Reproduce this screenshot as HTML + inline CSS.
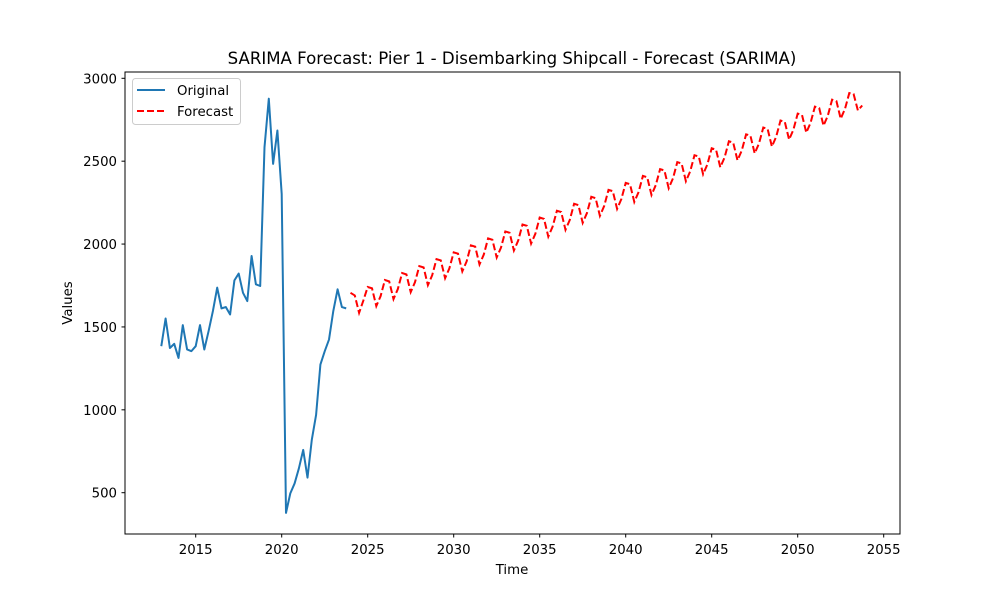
<!DOCTYPE html>
<html><head><meta charset="utf-8"><style>
body{margin:0;background:#fff;}
svg{display:block;font-family:"DejaVu Sans","Liberation Sans",sans-serif;}
</style></head><body>
<svg id="chart" width="1000" height="600" viewBox="0 0 1000 600">
<rect width="1000" height="600" fill="#fff"/>
<text x="512" y="64" font-size="16.6" text-anchor="middle" fill="#000">SARIMA Forecast: Pier 1 - Disembarking Shipcall - Forecast (SARIMA)</text>
<g id="xticks"></g>
<g id="yticks"></g>
<g id="series"></g>
<rect x="125" y="72" width="775" height="462" fill="none" stroke="#000" stroke-width="1"/>
<text x="512" y="574" font-size="13.3" text-anchor="middle">Time</text>
<text x="72" y="303" font-size="13.3" text-anchor="middle" transform="rotate(-90 72 303)">Values</text>
<g>
<rect x="132.5" y="78.5" width="108" height="46" rx="3" fill="#fff" fill-opacity="0.8" stroke="#ccc"/>
<line x1="137" y1="90" x2="165" y2="90" stroke="#1f77b4" stroke-width="2"/>
<text x="177" y="95" font-size="13.3">Original</text>
<line x1="137" y1="111" x2="165" y2="111" stroke="#ff0000" stroke-width="2" stroke-dasharray="7,3"/>
<text x="177" y="116" font-size="13.3">Forecast</text>
</g>
</svg>
<script>
const xTicks=[2015,2020,2025,2030,2035,2040,2045,2050,2055];
const yTicks=[500,1000,1500,2000,2500,3000];
const originalStart=2013.0;
const originalValues=[1384,1551,1373,1398,1313,1511,1364,1354,1384,1511,1364,1475,1596,1737,1612,1620,1575,1781,1822,1706,1656,1928,1757,1747,2584,2877,2484,2685,2302,378,496,556,647,758,591,819,970,1273,1353,1424,1596,1727,1620,1612];
const forecastStart=2024.0;
const forecastValues=[1706,1690,1585,1660,1741,1733,1626,1686,1783,1775,1668,1728,1825,1817,1710,1770,1867,1859,1752,1812,1909,1901,1794,1854,1950,1942,1835,1895,1992,1984,1877,1937,2034,2026,1919,1979,2076,2068,1961,2021,2118,2110,2003,2063,2160,2152,2045,2105,2201,2193,2086,2146,2243,2235,2128,2188,2285,2277,2170,2230,2327,2319,2212,2272,2369,2361,2254,2314,2411,2403,2296,2356,2452,2444,2337,2397,2494,2486,2379,2439,2536,2528,2421,2481,2578,2570,2463,2523,2620,2612,2505,2565,2662,2654,2547,2607,2703,2695,2588,2648,2745,2737,2630,2690,2787,2779,2672,2732,2829,2821,2714,2774,2871,2863,2756,2816,2911,2905,2806,2836];
const NS='http://www.w3.org/2000/svg';
function xs(t){return 195.7+(t-2015)*17.2;}
function ys(v){return 492.7-(v-500)*0.16576;}
const xg=document.getElementById('xticks'),yg=document.getElementById('yticks'),sg=document.getElementById('series');
xTicks.forEach(t=>{
 const l=document.createElementNS(NS,'line');
 l.setAttribute('x1',xs(t));l.setAttribute('x2',xs(t));l.setAttribute('y1',534);l.setAttribute('y2',537.5);l.setAttribute('stroke','#000');
 
 
 xg.appendChild(l);
 const tx=document.createElementNS(NS,'text');
 tx.setAttribute('x',xs(t));tx.setAttribute('y',554);tx.setAttribute('font-size','13.3');tx.setAttribute('text-anchor','middle');tx.textContent=t;
 
 
 xg.appendChild(tx);
});
yTicks.forEach(v=>{
 const l=document.createElementNS(NS,'line');
 l.setAttribute('x1',121.5);l.setAttribute('x2',125);l.setAttribute('y1',ys(v));l.setAttribute('y2',ys(v));l.setAttribute('stroke','#000');
 
 
 yg.appendChild(l);
 const tx=document.createElementNS(NS,'text');
 tx.setAttribute('x',117);tx.setAttribute('y',ys(v)+5);tx.setAttribute('font-size','13.3');tx.setAttribute('text-anchor','end');tx.textContent=v;
 
 
 yg.appendChild(tx);
});
function pts(start,vals){return vals.map((v,i)=>xs(start+i*0.25).toFixed(2)+','+ys(v).toFixed(2)).join(' ');}
const p1=document.createElementNS(NS,'polyline');
p1.setAttribute('points',pts(originalStart,originalValues));p1.setAttribute('fill','none');p1.setAttribute('stroke','#1f77b4');p1.setAttribute('stroke-width','2');p1.setAttribute('stroke-linejoin','round');


sg.appendChild(p1);
const p2=document.createElementNS(NS,'polyline');
p2.setAttribute('points',pts(forecastStart,forecastValues));p2.setAttribute('fill','none');p2.setAttribute('stroke','#ff0000');p2.setAttribute('stroke-width','2');p2.setAttribute('stroke-dasharray','7,3');


sg.appendChild(p2);
</script>
</body></html>
